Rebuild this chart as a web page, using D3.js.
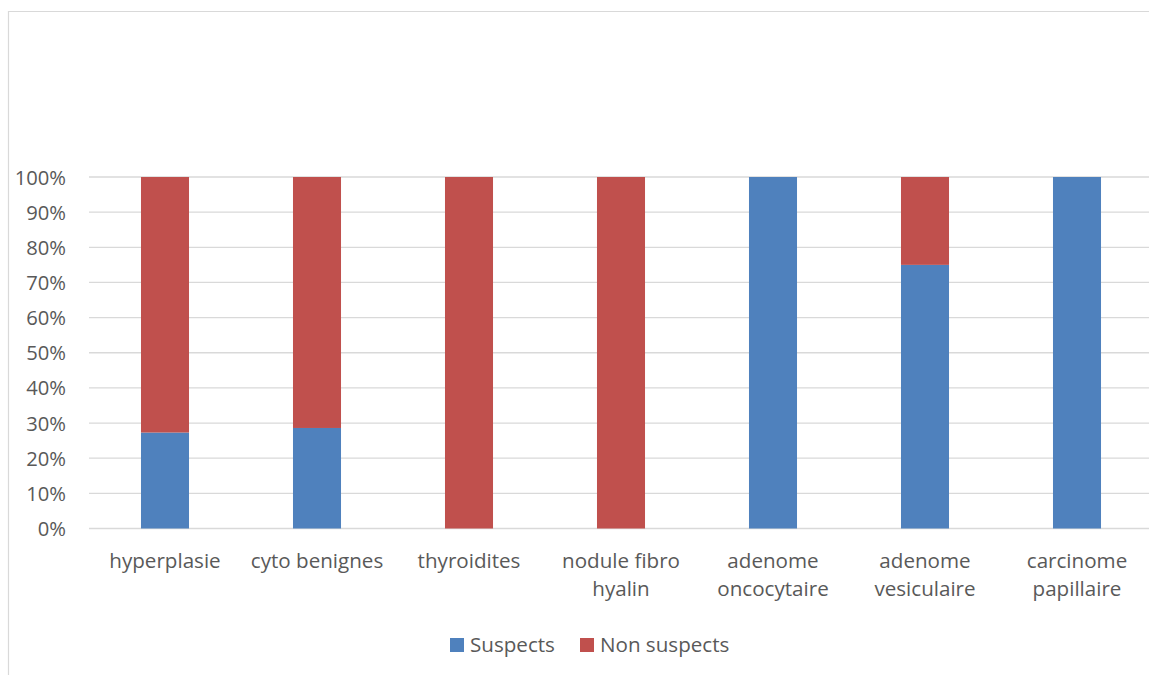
<!DOCTYPE html>
<html>
<head>
<meta charset="utf-8">
<script src="https://cdn.jsdelivr.net/npm/d3@7"></script>
<style>
  html, body { margin: 0; padding: 0; background: #fff; }
  svg { display: block; }
  text { font-family: "Open Sans", sans-serif; fill: #595959; }
</style>
</head>
<body>
<svg id="chart" width="1149" height="675"></svg>
<script>
const categories = ["hyperplasie", "cyto benignes", "thyroidites", "nodule fibro hyalin", "adenome oncocytaire", "adenome vesiculaire", "carcinome papillaire"];
const suspects = [27.3, 28.6, 0, 0, 100, 75, 100];
const nonSuspects = [72.7, 71.4, 100, 100, 0, 25, 0];
const seriesNames = ["Suspects", "Non suspects"];
const seriesColors = ["#4F81BD", "#C0504D"];
const yTicks = [0, 10, 20, 30, 40, 50, 60, 70, 80, 90, 100];

const svg = d3.select("#chart");
const W = 1149, H = 675;
const FS = 20.6;

// chart area border
svg.append("path")
  .attr("d", `M8.5,${H} L8.5,11.5 L${W},11.5`)
  .attr("fill", "none").attr("stroke", "#D9D9D9").attr("stroke-width", 1.2);

const x = d3.scaleBand().domain(categories).range([89, 1153]).paddingInner(0.684).paddingOuter(0.342);
const y = d3.scaleLinear().domain([0, 100]).range([528.5, 177]);

// gridlines
svg.append("g").selectAll("line").data(yTicks).join("line")
  .attr("x1", 89).attr("x2", W)
  .attr("y1", d => y(d)).attr("y2", d => y(d))
  .attr("stroke", "#D9D9D9").attr("stroke-width", 1.3);

// y axis labels
const yAxis = d3.axisLeft(y).tickValues(yTicks).tickFormat(d => d + "%").tickSize(0).tickPadding(0);
const yg = svg.append("g").attr("transform", "translate(66,0)").call(yAxis);
yg.select(".domain").remove();
yg.selectAll("text").attr("font-size", 20.2).style("font-family", '"Open Sans", sans-serif').attr("fill", "#595959").attr("dy", "0.35em");

// stacked bars
const rows = categories.map((c, i) => ({ cat: c, s0: suspects[i], s1: nonSuspects[i] }));
const stack = d3.stack().keys(["s0", "s1"])(rows);
svg.append("g").selectAll("g").data(stack).join("g")
  .attr("fill", (d, i) => seriesColors[i])
  .selectAll("rect").data(d => d).join("rect")
  .attr("x", d => x(d.data.cat))
  .attr("width", x.bandwidth())
  .attr("y", d => y(d[1]))
  .attr("height", d => Math.max(0, y(d[0]) - y(d[1])));

// category labels with wrapping
const lab = svg.append("g");
categories.forEach(c => {
  const cx = x(c) + x.bandwidth() / 2;
  const t = lab.append("text").attr("text-anchor", "middle").attr("font-size", FS).attr("x", cx);
  const words = c.split(" ");
  let lines = [], cur = [];
  const probe = svg.append("text").attr("font-size", FS);
  words.forEach(w => {
    const test = cur.concat([w]).join(" ");
    probe.text(test);
    if (probe.node().getComputedTextLength() > 146 && cur.length) { lines.push(cur.join(" ")); cur = [w]; }
    else cur.push(w);
  });
  lines.push(cur.join(" "));
  probe.remove();
  lines.forEach((l, i) => {
    t.append("tspan").attr("x", cx).attr("y", 568 + i * 28).text(l);
  });
});

// legend
const leg = svg.append("g");
const legX = [450, 580];
seriesNames.forEach((n, i) => {
  leg.append("rect").attr("x", legX[i]).attr("y", 638).attr("width", 14).attr("height", 14).attr("fill", seriesColors[i]);
  leg.append("text").attr("x", legX[i] + 20).attr("y", 652).attr("font-size", FS).text(n);
});
</script>
</body>
</html>
